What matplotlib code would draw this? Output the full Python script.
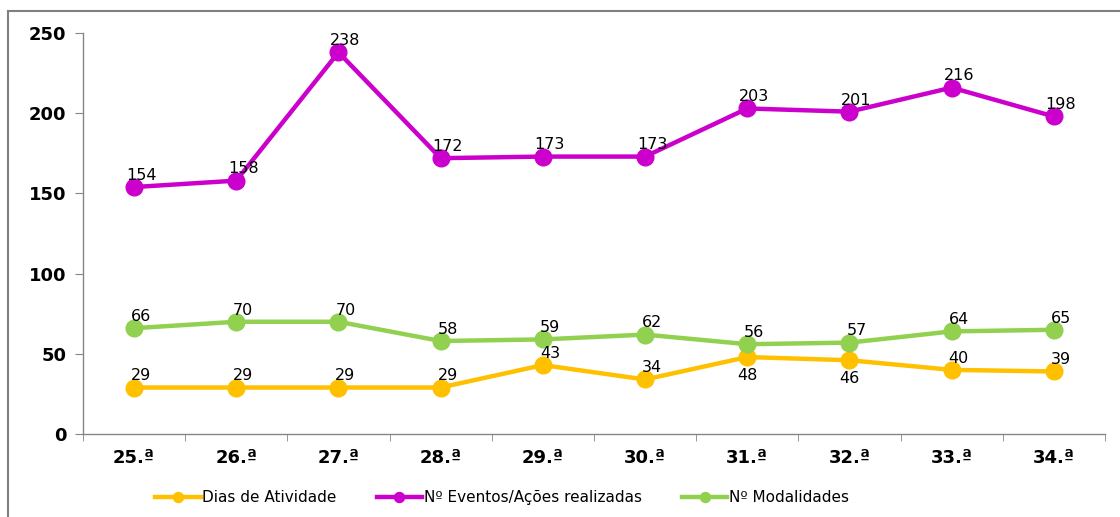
import matplotlib
matplotlib.use("Agg")
import matplotlib.pyplot as plt
from matplotlib.lines import Line2D
import numpy as np

edicoes = ["25.ª", "26.ª", "27.ª", "28.ª", "29.ª", "30.ª", "31.ª", "32.ª", "33.ª", "34.ª"]
dias = [29, 29, 29, 29, 43, 34, 48, 46, 40, 39]
eventos = [154, 158, 238, 172, 173, 173, 203, 201, 216, 198]
modalidades = [66, 70, 70, 58, 59, 62, 56, 57, 64, 65]
dias_below = [6, 7]  # labels placed under the marker

AX_GRAY = "#868686"

fig = plt.figure(figsize=(11.2, 5.17), dpi=100)
ax = fig.add_axes([0.0741, 0.1605, 0.9125, 0.7755])
x = np.arange(len(edicoes))

series = [
    ("Dias de Atividade", dias, "#FFC000"),
    ("Nº Eventos/Ações realizadas", eventos, "#CC00CC"),
    ("Nº Modalidades", modalidades, "#92D050"),
]
for name, vals, col in series:
    ax.plot(x, vals, color=col, lw=3.2, marker="o", markersize=12, label=name, zorder=3)
    for i, v in enumerate(vals):
        below = name == "Dias de Atividade" and i in dias_below
        ax.annotate(str(v), (i, v), xytext=(0, -8) if below else (5, 3), textcoords="offset points",
                    ha="center", va="top" if below else "bottom", fontsize=11.5, color="black", zorder=4)

ax.set_xlim(-0.5, len(edicoes) - 0.5)
ax.set_ylim(0, 250)
ax.set_yticks(range(0, 251, 50))
ax.set_xticks(x)
ax.set_xticklabels(edicoes, fontsize=13, fontweight="bold")
ax.set_xticks(np.arange(-0.5, len(edicoes), 1), minor=True)
ax.tick_params(axis="x", which="major", length=0, pad=11)
ax.tick_params(axis="x", which="minor", length=5, color=AX_GRAY, direction="out")
ax.tick_params(axis="y", length=6, color=AX_GRAY, pad=6)
for lab in ax.get_yticklabels():
    lab.set_fontweight("bold")
    lab.set_fontsize(13)
for s in ("top", "right"):
    ax.spines[s].set_visible(False)
for s in ("left", "bottom"):
    ax.spines[s].set_color(AX_GRAY)
    ax.spines[s].set_linewidth(1)

ax.legend(loc="upper center", bbox_to_anchor=(0.41, -0.105), ncol=3, frameon=False,
          fontsize=11, handlelength=3.0, columnspacing=2.6, handletextpad=0.1,
          markerscale=0.6)

# outer chart frame (left and top edges visible)
fig.add_artist(Line2D([8 / 1120, 8 / 1120], [0, 1 - 11 / 517], color="#808080", lw=1.5,
                      transform=fig.transFigure))
fig.add_artist(Line2D([8 / 1120, 1], [1 - 11 / 517, 1 - 11 / 517], color="#808080", lw=1.5,
                      transform=fig.transFigure))

fig.savefig("out.png", dpi=100, facecolor="white")
